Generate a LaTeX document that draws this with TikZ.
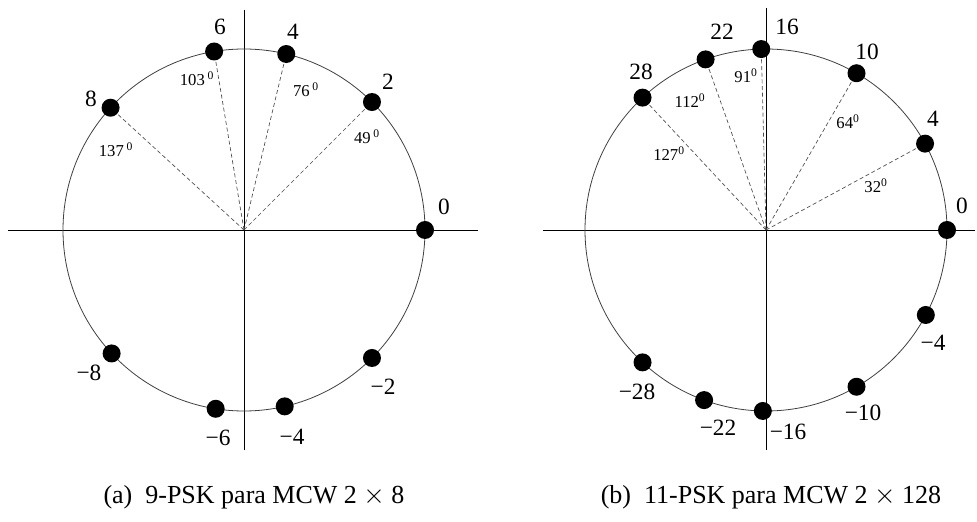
\documentclass[tikz,border=0pt]{standalone}
\usepackage{fontspec}
\setmainfont{Liberation Serif}
\usetikzlibrary{positioning}
\tikzset{
  dot/.style={circle, fill=black, inner sep=0pt, minimum size=13.5pt},
  lbl/.style={inner sep=0pt, font=\fontsize{17.5}{18}\selectfont},
  ang/.style={inner sep=0pt, font=\fontsize{12.5}{13}\selectfont},
  ray/.style={dashed, dash pattern=on 3pt off 2pt, draw=black!70, line width=0.5pt},
  axis/.style={draw=black, line width=0.7pt},
  ring/.style={draw=black!75, line width=0.6pt},
  capt/.style={inner sep=0pt, font=\fontsize{19.5}{21}\selectfont}
}

\begin{document}
\begin{tikzpicture}[x=0.75pt, y=0.75pt]
  \useasboundingbox (0,0) rectangle (977,521);

  % (a) 9-PSK
  \coordinate (cA) at (244,291);
  \coordinate (aW) at (8,291);
  \coordinate (aE) at (478,291);
  \coordinate (aN) at (244,511);
  \coordinate (aS) at (244,71);
  \draw[axis] (aW) -- (aE);
  \draw[axis] (aN) -- (aS);
  \draw[ring] (cA) circle[radius=181];

  \node[dot] (a0) at ([shift={(0:181)}]cA) {};
  \node[dot] (a2) at ([shift={(45:181)}]cA) {};
  \node[dot] (a4) at ([shift={(76.5:181)}]cA) {};
  \node[dot] (a6) at ([shift={(99.5:181)}]cA) {};
  \node[dot] (a8) at ([shift={(137.5:181)}]cA) {};
  \node[dot] (am2) at ([shift={(-45:181)}]cA) {};
  \node[dot] (am4) at ([shift={(-77:181)}]cA) {};
  \node[dot] (am6) at ([shift={(-99:181)}]cA) {};
  \node[dot] (am8) at ([shift={(-137:181)}]cA) {};

  \draw[ray] (cA) -- (a2);
  \draw[ray] (cA) -- (a4);
  \draw[ray] (cA) -- (a6);
  \draw[ray] (cA) -- (a8);

  \node[lbl] (la0) at (444,314) {0};
  \node[lbl] (la2) at (388,439) {2};
  \node[lbl] (la4) at (293,489) {4};
  \node[lbl] (la6) at (220,494) {6};
  \node[lbl] (la8) at (91,422) {8};
  \node[lbl] (lam8) at (89,148) {−8};
  \node[lbl] (lam6) at (218,83) {−6};
  \node[lbl] (lam4) at (292,84) {−4};
  \node[lbl] (lam2) at (383,134) {−2};

  \node[ang] (t137) at (116,371) {137\,\textsuperscript{0}};
  \node[ang] (t103) at (197,442) {103\,\textsuperscript{0}};
  \node[ang] (t76) at (306,431) {76\,\textsuperscript{0}};
  \node[ang] (t49) at (367,384) {49\,\textsuperscript{0}};

  \node[capt] (capA) at (254,24) {(a)\enspace 9-PSK para MCW 2 $\times$ 8};

  % (b) 11-PSK
  \coordinate (cB) at (766,291);
  \coordinate (bW) at (543,291);
  \coordinate (bE) at (975,291);
  \coordinate (bN) at (766,513);
  \coordinate (bS) at (766,71);
  \draw[axis] (bW) -- (bE);
  \draw[axis] (bN) -- (bS);
  \draw[ring] (cB) circle[radius=181];

  \node[dot] (b0) at ([shift={(0:181)}]cB) {};
  \node[dot] (b4) at ([shift={(28.5:181)}]cB) {};
  \node[dot] (b10) at ([shift={(60:181)}]cB) {};
  \node[dot] (b16) at ([shift={(91.5:181)}]cB) {};
  \node[dot] (b22) at ([shift={(109.5:181)}]cB) {};
  \node[dot] (b28) at ([shift={(133:181)}]cB) {};
  \node[dot] (bm4) at ([shift={(-28:181)}]cB) {};
  \node[dot] (bm10) at ([shift={(-60:181)}]cB) {};
  \node[dot] (bm16) at ([shift={(-91:181)}]cB) {};
  \node[dot] (bm22) at ([shift={(-110:181)}]cB) {};
  \node[dot] (bm28) at ([shift={(-133:181)}]cB) {};

  \draw[ray] (cB) -- (b4);
  \draw[ray] (cB) -- (b10);
  \draw[ray] (cB) -- (b16);
  \draw[ray] (cB) -- (b22);
  \draw[ray] (cB) -- (b28);

  \node[lbl] (lb0) at (962,315) {0};
  \node[lbl] (lb4) at (933,402) {4};
  \node[lbl] (lb10) at (867,469) {10};
  \node[lbl] (lb16) at (787,494) {16};
  \node[lbl] (lb22) at (722,489) {22};
  \node[lbl] (lb28) at (641,449) {28};
  \node[lbl] (lbm4) at (933,178) {−4};
  \node[lbl] (lbm10) at (863,108) {−10};
  \node[lbl] (lbm16) at (788,89) {−16};
  \node[lbl] (lbm22) at (718,93) {−22};
  \node[lbl] (lbm28) at (637,129) {−28};

  \node[ang] (t127) at (669,367) {127\textsuperscript{0}};
  \node[ang] (t112) at (690,420) {112\textsuperscript{0}};
  \node[ang] (t91) at (746,445) {91\textsuperscript{0}};
  \node[ang] (t64) at (848,399) {64\textsuperscript{0}};
  \node[ang] (t32) at (876,335) {32\textsuperscript{0}};

  \node[capt] (capB) at (771,24) {(b)\enspace 11-PSK para MCW 2 $\times$ 128};
\end{tikzpicture}
\end{document}
